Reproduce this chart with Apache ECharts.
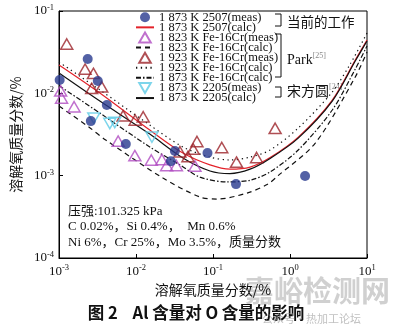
<!DOCTYPE html>
<html><head><meta charset="utf-8">
<script src="https://cdn.jsdelivr.net/npm/echarts@6/dist/echarts.min.js"></script>
<style>html,body{margin:0;padding:0;background:#fff}#c{width:396px;height:332px}</style>
</head><body><div id="c"></div>
<script>
// ---- data ----
const xTickValues = [0.001, 0.01, 0.1, 1, 10];
const yTickValues = [0.0001, 0.001, 0.01, 0.1];
const seriesNames = [
  '1 873 K 2507(meas)', '1 873 K 2507(calc)',
  '1 823 K Fe-16Cr(meas)', '1 823 K Fe-16Cr(calc)',
  '1 923 K Fe-16Cr(meas)', '1 923 K Fe-16Cr(calc)',
  '1 873 K Fe-16Cr(calc)',
  '1 873 K 2205(meas)', '1 873 K 2205(calc)'
];
const meas2507 = [[0.00102,0.0145],[0.00236,0.0261],[0.00319,0.0141],[0.00418,0.0072],[0.00259,0.0046],[0.00738,0.00242],[0.0320,0.00199],[0.0284,0.00150],[0.0848,0.00188],[0.199,0.00079],[1.57,0.00099]];
const calc2507 = [[0.001,0.0221],[0.00339,0.0101],[0.0151,0.00358],[0.0407,0.00188],[0.0914,0.00135],[0.166,0.00120],[0.303,0.00127],[0.552,0.00166],[1.28,0.00294],[3.54,0.00829],[7.04,0.0254],[10,0.0444]];
const meas1823 = [[0.00105,0.0107],[0.00108,0.00877],[0.00157,0.00688],[0.00586,0.00263],[0.00966,0.00175],[0.0158,0.00155],[0.0217,0.00157],[0.0250,0.00133],[0.0335,0.00133],[0.0583,0.00131]];
const calc1823 = [[0.001,0.00701],[0.00244,0.0039],[0.00405,0.00271],[0.0224,0.000935],[0.0677,0.00055],[0.113,0.00052],[0.277,0.000615],[0.504,0.00078],[0.701,0.00100],[2.13,0.00249],[7.04,0.0158],[10,0.0318]];
const meas1923 = [[0.00126,0.0397],[0.00218,0.0197],[0.0028,0.0175],[0.00266,0.0115],[0.00359,0.0120],[0.0068,0.00534],[0.00975,0.00474],[0.0124,0.00520],[0.0372,0.00195],[0.0473,0.00171],[0.0554,0.0021],[0.0619,0.0026],[0.130,0.0022],[0.202,0.00146],[0.368,0.00166],[0.641,0.00376]];
const calc1923 = [[0.001,0.024],[0.00339,0.011],[0.0151,0.00412],[0.0407,0.00223],[0.0914,0.00168],[0.166,0.00155],[0.303,0.00168],[0.552,0.00205],[1.28,0.00379],[3.54,0.0104],[6.06,0.0227],[10,0.054]];
const calc1873Fe = [[0.001,0.0124],[0.00339,0.00576],[0.0151,0.00223],[0.0372,0.00135],[0.0677,0.00096],[0.152,0.00084],[0.303,0.00088],[0.552,0.00111],[1.28,0.00205],[3.54,0.00627],[7.04,0.0197],[10,0.0376]];
const meas2205 = [[0.00283,0.0050],[0.00457,0.0043],[0.0053,0.00442],[0.0161,0.00294]];
const calc2205 = [[0.001,0.01765],[0.00339,0.00806],[0.0151,0.0032],[0.0407,0.00164],[0.0914,0.00114],[0.166,0.00106],[0.303,0.0012],[0.552,0.00162],[1.28,0.00286],[3.54,0.00806],[7.04,0.0247],[10,0.0432]];

const SERIF = '"Liberation Serif","Noto Sans CJK SC",serif';
const CJK = '"Noto Sans CJK SC","Liberation Serif",sans-serif';
const TRI_UP = 'path://M5,0L10,8.66L0,8.66Z';
const TRI_DOWN = 'path://M0,0L10,0L5,8.66Z';
const expFmt = v => { const e = Math.round(Math.log10(v)); return '{b|10}{s|' + e + '}'; };
const richLbl = { b: { fontFamily: SERIF, fontSize: 13, color: '#111', lineHeight: 15 },
                  s: { fontFamily: SERIF, fontSize: 8.5, color: '#111', verticalAlign: 'top', lineHeight: 9 } };

const chart = echarts.init(document.getElementById('c'), null, { renderer: 'canvas' });
const hollow = c => ({ color: 'rgba(255,255,255,0)', borderColor: c, borderWidth: 1.5 });
const lineS = (name, data, color, type) => ({
  name, type: 'line', data, showSymbol: false, symbol: 'circle', symbolSize: 0, smooth: 0.3,
  lineStyle: { color, width: 1.2, type },
  itemStyle: { color: 'rgba(0,0,0,0)', borderColor: 'rgba(0,0,0,0)', borderWidth: 0 }, z: 2
});
chart.setOption({
  animation: false,
  grid: { left: 59, right: 29, top: 11, bottom: 74, show: true, borderColor: '#000', borderWidth: 1, backgroundColor: 'transparent' },
  xAxis: { type: 'log', logBase: 10, min: xTickValues[0], max: xTickValues[xTickValues.length - 1],
    axisLine: { lineStyle: { color: '#000', width: 1 } },
    axisTick: { inside: true, length: 4, lineStyle: { color: '#000' } },
    minorTick: { show: false }, splitLine: { show: false },
    axisLabel: { formatter: expFmt, rich: richLbl, margin: 6 },
    name: '溶解氧质量分数/%', nameLocation: 'middle', nameGap: 24,
    nameTextStyle: { fontFamily: CJK, fontSize: 14, color: '#111' } },
  yAxis: { type: 'log', logBase: 10, min: yTickValues[0], max: yTickValues[yTickValues.length - 1],
    axisLine: { lineStyle: { color: '#000', width: 1 } },
    axisTick: { inside: true, length: 4, lineStyle: { color: '#000' } },
    minorTick: { show: false }, splitLine: { show: false },
    axisLabel: { formatter: expFmt, rich: richLbl, margin: 5 },
    name: '溶解氧质量分数/%', nameLocation: 'middle', nameGap: 28, nameRotate: 90,
    nameTextStyle: { fontFamily: CJK, fontSize: 14, color: '#111' } },
  legend: { orient: 'vertical', left: 135, top: 11, padding: 0, itemGap: -2.4, itemWidth: 18, itemHeight: 10,
    data: seriesNames, symbolKeepAspect: true,
    textStyle: { fontFamily: SERIF, fontSize: 12.5, color: '#111', lineHeight: 10 } },
  series: [
    { name: seriesNames[0], type: 'scatter', data: meas2507, symbol: 'circle', symbolSize: 10, itemStyle: { color: '#283a8f' }, z: 4 },
    lineS(seriesNames[1], calc2507, '#e3222a', 'solid'),
    { name: seriesNames[2], type: 'scatter', data: meas1823, symbol: TRI_UP, symbolSize: 12, symbolKeepAspect: true, itemStyle: hollow('#b04cc2'), z: 3 },
    lineS(seriesNames[3], calc1823, '#111', [5, 4]),
    { name: seriesNames[4], type: 'scatter', data: meas1923, symbol: TRI_UP, symbolSize: 12, symbolKeepAspect: true, itemStyle: hollow('#9c2329'), z: 3 },
    lineS(seriesNames[5], calc1923, '#111', [1.3, 3.5]),
    lineS(seriesNames[6], calc1873Fe, '#111', [5, 2, 1.5, 2]),
    { name: seriesNames[7], type: 'scatter', data: meas2205, symbol: TRI_DOWN, symbolSize: 12, symbolKeepAspect: true, itemStyle: hollow('#5ccbe6'), z: 3 },
    lineS(seriesNames[8], calc2205, '#111', 'solid')
  ],
  graphic: [
    { type: 'polyline', shape: { points: [[275, 14], [281, 14], [281, 26], [275, 26]] }, style: { stroke: '#111', lineWidth: 1, fill: null } },
    { type: 'text', x: 287, y: 22, style: { text: '当前的工作', font: '13.5px ' + CJK, fill: '#111', textVerticalAlign: 'middle' } },
    { type: 'polyline', shape: { points: [[275, 34], [281, 34], [281, 77], [275, 77]] }, style: { stroke: '#111', lineWidth: 1, fill: null } },
    { type: 'text', x: 287, y: 60, style: { text: '{a|Park}{s|[25]}', textVerticalAlign: 'middle',
        rich: { a: { fontFamily: SERIF, fontSize: 14, fill: '#111', lineHeight: 16 }, s: { fontFamily: SERIF, fontSize: 8, fill: '#888', verticalAlign: 'top', lineHeight: 9 } } } },
    { type: 'polyline', shape: { points: [[275, 87], [281, 87], [281, 97], [275, 97]] }, style: { stroke: '#111', lineWidth: 1, fill: null } },
    { type: 'text', x: 287, y: 91, style: { text: '{a|宋方圆}{s|[24]}', textVerticalAlign: 'middle',
        rich: { a: { fontFamily: CJK, fontSize: 14, fill: '#111', lineHeight: 16 }, s: { fontFamily: SERIF, fontSize: 8, fill: '#888', verticalAlign: 'top', lineHeight: 9 } } } },
    { type: 'text', x: 68, y: 212, style: { text: '压强:101.325 kPa', font: '13px ' + SERIF, fill: '#111', textVerticalAlign: 'middle' } },
    { type: 'text', x: 68, y: 227, style: { text: 'C 0.02%，Si 0.4%，  Mn 0.6%', font: '13px ' + SERIF, fill: '#111', textVerticalAlign: 'middle' } },
    { type: 'text', x: 68, y: 243, style: { text: 'Ni 6%，Cr 25%，Mo 3.5%，质量分数', font: '13px ' + SERIF, fill: '#111', textVerticalAlign: 'middle' } },
    { type: 'text', x: 245, y: 291, style: { text: '嘉峪检测网', font: 'bold 29px ' + CJK, fill: 'rgba(170,170,170,0.55)', textVerticalAlign: 'middle' } },
    { type: 'text', x: 196, y: 313, style: { text: '图 2    Al 含量对 O 含量的影响', font: 'bold 16.5px ' + CJK, fill: '#111', textAlign: 'center', textVerticalAlign: 'middle' } },
    { type: 'text', x: 262, y: 319, style: { text: '公众号·热加工论坛', font: '11px ' + CJK, fill: 'rgba(150,150,150,0.6)', textVerticalAlign: 'middle' } }
  ]
});
</script></body></html>
